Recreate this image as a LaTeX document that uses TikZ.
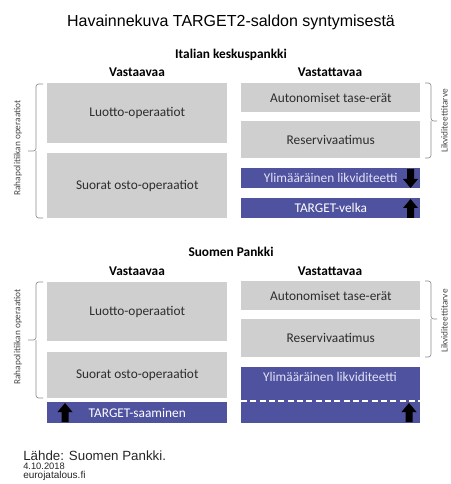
\documentclass[tikz,border=0pt]{standalone}
\usepackage{fontspec}
\setmainfont{Carlito}
\newfontfamily\arialfont{Liberation Sans}
\definecolor{boxgrey}{RGB}{208,207,207}
\definecolor{boxtext}{RGB}{45,45,45}
\definecolor{tpurple}{RGB}{79,82,158}
\definecolor{lighttext}{RGB}{226,226,246}
\definecolor{bracegrey}{RGB}{140,140,140}
\definecolor{labelgrey}{RGB}{70,70,70}
\begin{document}
\begin{tikzpicture}[x=0.75pt,y=-0.75pt,
  greybox/.style={fill=boxgrey, text=boxtext, inner sep=0pt, anchor=north west,
    font=\fontsize{10}{12}\selectfont},
  bluebox/.style={fill=tpurple, text=lighttext, inner sep=0pt, anchor=north west,
    font=\fontsize{10}{12}\selectfont},
  lw/.style={minimum width=135pt},
  rw/.style={minimum width=134.25pt},
  head/.style={font=\bfseries\fontsize{10}{12}\selectfont, text=black, inner sep=0pt},
  sidelabel/.style={rotate=90, font=\fontsize{7}{8}\selectfont, text=labelgrey, inner sep=0pt},
  bracket/.style={draw=bracegrey, line width=0.5pt, rounded corners=2pt},
  uparr/.pic={\fill[black] (-3.5,0) -- (-3.5,-10) -- (-7.5,-10) -- (0,-19) -- (7.5,-10) -- (3.5,-10) -- (3.5,0) -- cycle;},
  foot/.style={font=\arialfont, anchor=west, inner sep=0pt, text=black!85}
]
\useasboundingbox (0,0) rectangle (450,484);

% title
\node[font=\arialfont\fontsize{12}{14}\selectfont, inner sep=0pt] (title) at (231,22) {Havainnekuva TARGET2-saldon syntymisestä};

% ---------- Italian keskuspankki ----------
\node[head] (bank1) at (231,55) {Italian keskuspankki};
\node[head] (assets1) at (137,72) {Vastaavaa};
\node[head] (liab1) at (330,72) {Vastattavaa};

\node[greybox, lw, minimum height=45pt] (luotto1) at (47,83) {Luotto-operaatiot};
\node[greybox, lw, minimum height=48.75pt] (suorat1) at (47,153) {Suorat osto-operaatiot};

\node[greybox, rw, minimum height=21.75pt] (auto1) at (241,83) {Autonomiset tase-erät};
\node[greybox, rw, minimum height=27.75pt] (reserv1) at (241,121) {Reservivaatimus};
\node[bluebox, rw, minimum height=15pt] (ylim1) at (241,168) {Ylimääräinen likviditeetti};
\node[bluebox, rw, minimum height=15pt, text=white] (velka1) at (241,198) {TARGET-velka};

\pic[yscale=-1] at (410.5,169) {uparr};
\pic at (410.5,218) {uparr};

% brackets
\coordinate (lb1t) at (43,84);
\coordinate (lb1b) at (43,218);
\draw[bracket] (lb1t) -- (36,84) -- (36,151) -- (28,151);
\draw[bracket] (lb1b) -- (36,218) -- (36,151);
\node[sidelabel] (rp1) at (18,148) {Rahapolitiikan operaatiot};

\coordinate (rb1t) at (425,83);
\coordinate (rb1b) at (425,158);
\draw[bracket] (rb1t) -- (431,83) -- (431,121) -- (437,121);
\draw[bracket] (rb1b) -- (431,158) -- (431,121);
\node[sidelabel] (lt1) at (444.5,121) {Likviditeettitarve};

% ---------- Suomen Pankki ----------
\node[head] (bank2) at (231,252) {Suomen Pankki};
\node[head] (assets2) at (137,271) {Vastaavaa};
\node[head] (liab2) at (330,271) {Vastattavaa};

\node[greybox, lw, minimum height=44.25pt] (luotto2) at (47,282) {Luotto-operaatiot};
\node[greybox, lw, minimum height=34.5pt] (suorat2) at (47,352) {Suorat osto-operaatiot};
\node[bluebox, lw, minimum height=15.75pt, text=white] (saam2) at (47,402) {TARGET-saaminen};

\node[greybox, rw, minimum height=21.75pt] (auto2) at (241,281) {Autonomiset tase-erät};
\node[greybox, rw, minimum height=28.5pt] (reserv2) at (241,319) {Reservivaatimus};
\node[bluebox, rw, minimum height=42pt] (ylim2) at (241,367) {};
\node[text=lighttext, font=\fontsize{10}{12}\selectfont, inner sep=0pt] (ylim2txt) at (330,377) {Ylimääräinen likviditeetti};

\coordinate (dashL) at (241,401);
\coordinate (dashR) at (420,401);
\draw[white, line width=1.5pt, dash pattern=on 4.5pt off 2.5pt] (dashL) -- (dashR);

\pic at (65,422) {uparr};
\pic at (409,422) {uparr};

\coordinate (lb2t) at (43,282);
\coordinate (lb2b) at (43,398);
\draw[bracket] (lb2t) -- (36,282) -- (36,340) -- (28,340);
\draw[bracket] (lb2b) -- (36,398) -- (36,340);
\node[sidelabel] (rp2) at (18,337) {Rahapolitiikan operaatiot};

\coordinate (rb2t) at (425,281);
\coordinate (rb2b) at (425,357);
\draw[bracket] (rb2t) -- (431,281) -- (431,319) -- (437,319);
\draw[bracket] (rb2b) -- (431,357) -- (431,319);
\node[sidelabel] (lt2) at (444.5,321) {Likviditeettitarve};

% source
\node[foot, font=\arialfont\fontsize{10}{12}\selectfont] (src) at (23,456) {Lähde: Suomen Pankki.};
\node[foot, font=\arialfont\fontsize{7}{8}\selectfont] (date) at (23,466.5) {4.10.2018};
\node[foot, font=\arialfont\fontsize{7.5}{9}\selectfont] (site) at (23,475.5) {eurojatalous.fi};
\end{tikzpicture}
\end{document}
